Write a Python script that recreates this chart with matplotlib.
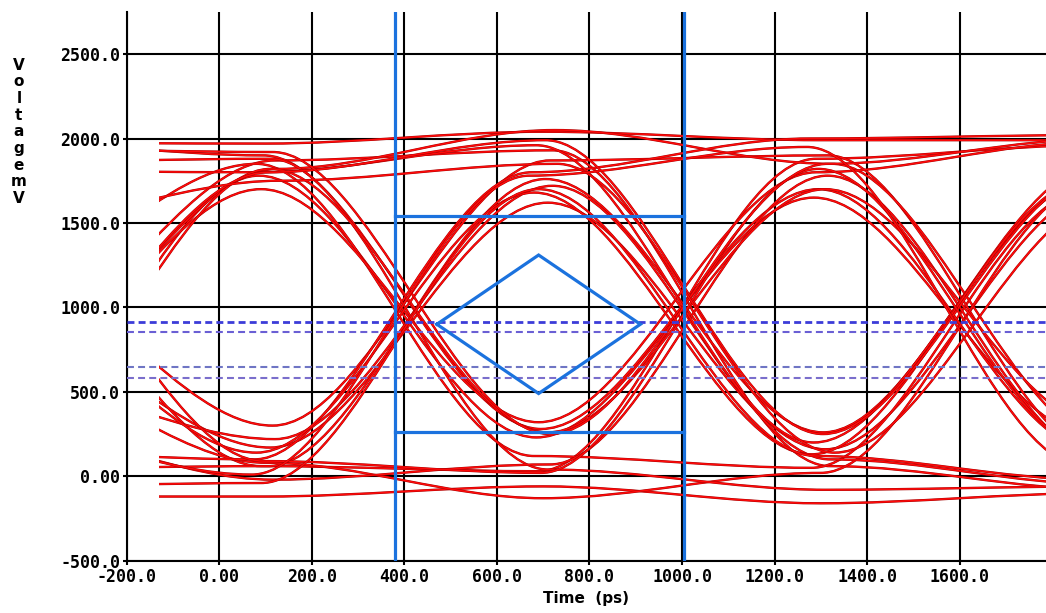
import matplotlib
matplotlib.use("Agg")
import matplotlib.pyplot as plt
import matplotlib.patches as patches
import matplotlib.patheffects as pe
from matplotlib.path import Path

# --- data ---
# level (mV) of each captured trace at the centre of each unit interval
ui_centers = [-500, 100, 700, 1300, 1900]
levels = [
    [1975, 1970, 2040, 1990, 1990],
    [-120, -120, -60, -160, -100],
    [80, 1780, 230, 1650, 250],
    [930, 170, 1620, 160, 1700],
    [720, 1870, 1930, 60, -80],
    [1380, 60, 30, 1880, 1960],
    [1080, 1850, 120, 50, 1700],
    [1250, 300, 1870, 1900, 120],
    [45, 60, 1760, 260, 1850],
    [1990, 1900, 280, 1700, 150],
    [600, 1820, 2050, 1850, 200],
    [670, 80, -130, 20, 1750],
    [150, 100, 1800, 2000, 2020],
    [1860, 1880, 40, -80, -60],
    [480, 1700, 320, 1800, 1980],
    [565, 220, 1720, 100, -50],
    [280, -20, 70, 1780, 100],
    [1810, 1800, 1960, 200, 1750],
    [150, 1820, 260, 1700, 300],
    [1100, 140, 1680, 130, 1760],
    [500, 1800, 1990, 250, 1800],
    [1600, 90, 20, 1820, 150],
    [1940, 1920, 250, 1850, 2000],
    [-60, -40, 1700, 120, -20],
    [1500, 1750, 1850, 140, 1650],
    [300, 10, 1780, 1950, 60],
]
# timing jitter of each trace (ps)
shifts = [0, 0, -15, 10, 20, -10, -20, 15, 5, -5, 25, 0,
          -25, 10, -10, 20, 15, -15, 10, -20, 5, -5, 15, -10, 30, -30]
trace_start = -130

mask_x = [380, 1005]
mask_top = 1540
mask_bot = 260
diamond_t = [470, 690, 910, 690, 470]
diamond_v = [900, 1310, 900, 490, 900]
dash_levels = [915, 852, 649, 580]
dash_colors = ["#3c3cd8", "#6a5fd4", "#6f75c4", "#7a6ecc"]
dash_widths = [2.0, 1.5, 1.5, 1.5]

xticks = [-200, 0, 200, 400, 600, 800, 1000, 1200, 1400, 1600]
xticklabels = ["-200.0", "0.00", "200.0", "400.0", "600.0", "800.0",
               "1000.0", "1200.0", "1400.0", "1600.0"]
yticks = [-500, 0, 500, 1000, 1500, 2000, 2500]
yticklabels = ["-500.0", "0.00", "500.0", "1000.0", "1500.0", "2000.0", "2500.0"]

xlim = (-200, 1787)
ylim = (-500, 2749)

plt.rcParams['lines.scale_dashes'] = False

fig = plt.figure(figsize=(10.46, 6.13), dpi=100)
ax = fig.add_axes([0.1214, 0.0853, 0.8786, 0.8951])
ax.set_xlim(*xlim)
ax.set_ylim(*ylim)

ax.grid(True, color="black", lw=1.5)
ax.set_axisbelow(True)
for s in ["top", "right"]:
    ax.spines[s].set_visible(False)
for s in ["left", "bottom"]:
    ax.spines[s].set_linewidth(1.5)

ax.set_xticks(xticks)
ax.set_xticklabels(xticklabels)
ax.set_yticks(yticks)
ax.set_yticklabels(yticklabels)
ax.tick_params(length=3, width=1.5, pad=2, labelsize=12)
for lab in ax.get_xticklabels() + ax.get_yticklabels():
    lab.set_family("DejaVu Sans Mono")
    lab.set_weight("bold")

# red eye traces, smooth bit-to-bit transitions drawn as bezier segments
clip = patches.Rectangle((trace_start, ylim[0]), xlim[1] - trace_start,
                         ylim[1] - ylim[0], transform=ax.transData)
for lv, dt in zip(levels, shifts):
    c = [t + dt for t in ui_centers]
    verts = [(c[0], lv[0])]
    codes = [Path.MOVETO]
    for k in range(len(c) - 1):
        h = (c[k + 1] - c[k]) / 3.0
        verts += [(c[k] + h, lv[k]), (c[k + 1] - h, lv[k + 1]), (c[k + 1], lv[k + 1])]
        codes += [Path.CURVE4] * 3
    p = patches.PathPatch(Path(verts, codes), fill=False, edgecolor="#ff0a0a",
                          lw=1.1, zorder=3,
                          path_effects=[pe.Stroke(linewidth=1.7, foreground="#a00000"),
                                        pe.Normal()])
    ax.add_patch(p)
    p.set_clip_path(clip)

# dashed threshold lines
for y, col, w in zip(dash_levels, dash_colors, dash_widths):
    ax.axhline(y, color=col, lw=w, dashes=(5, 3), zorder=4)

# mask
blue = "#1b72de"
for x in mask_x:
    ax.axvline(x, color=blue, lw=2.3, zorder=5)
ax.plot(mask_x, [mask_top, mask_top], color=blue, lw=2.3, zorder=5)
ax.plot(mask_x, [mask_bot, mask_bot], color=blue, lw=2.3, zorder=5)
ax.plot(diamond_t, diamond_v, color=blue, lw=2.3, zorder=5, solid_joinstyle="miter")

ax.set_xlabel("Time  (ps)", fontsize=11, fontweight="bold", labelpad=4)
fig.text(0.018, 0.785, "\n".join("VoltagemV"), fontsize=11,
         fontweight="bold", ha="center", va="center", linespacing=1.14)

fig.savefig("out.png", dpi=100)
